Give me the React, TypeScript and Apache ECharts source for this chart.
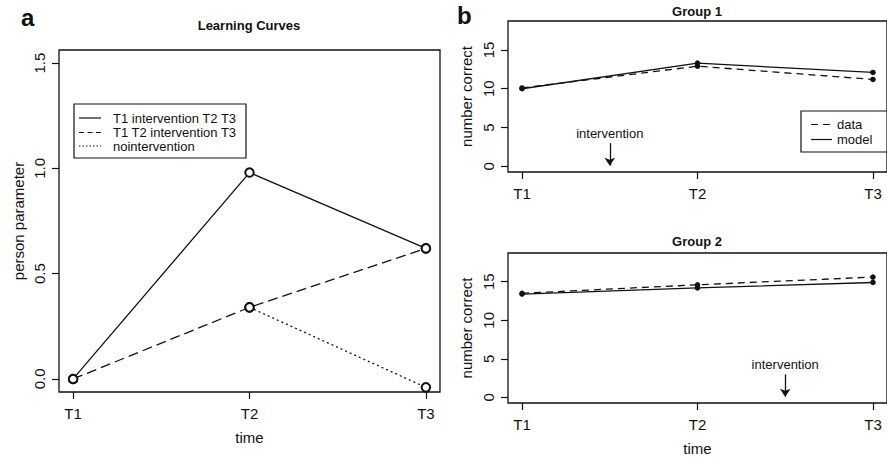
import React, { useEffect, useRef } from 'react';
import * as echarts from 'echarts';

const timeLabels = ['T1', 'T2', 'T3'];
const timeX = [1, 2, 3];

const curveNames = ['T1 intervention T2 T3', 'T1 T2 intervention T3', 'nointervention'];
const curveSolid = [0.0, 0.98, 0.62];
const curveDashed = [0.0, 0.34, 0.62];
const curveDotted = [null, 0.34, -0.04];
const personTicks = [0, 0.5, 1.0, 1.5];

const groupLegend = ['data', 'model'];
const correctTicks = [0, 5, 10, 15];
const group1Data = [10.1, 12.9, 11.2];
const group1Model = [10.0, 13.3, 12.1];
const group2Data = [13.5, 14.6, 15.6];
const group2Model = [13.4, 14.2, 14.9];
const interventionG1 = 1.5;
const interventionG2 = 2.5;
const arrowFrom = 3.0;
const arrowTo = 0.1;

const FONT = "'Liberation Sans', Arial, Helvetica, sans-serif";
const INK = '#111';

const pairs = (vals: (number | null)[]) =>
  vals.map((v, i) => (v === null ? null : [timeX[i], v])).filter((p) => p !== null) as number[][];

function xAxisCfg(gridIndex: number, name: string, nameGap: number) {
  return {
    type: 'value',
    gridIndex,
    min: 0.92,
    max: 3.08,
    name,
    nameLocation: 'middle',
    nameGap,
    nameTextStyle: { fontFamily: FONT, fontSize: 15, color: INK },
    axisLine: { show: false, onZero: false },
    splitLine: { show: false },
    axisTick: { show: true, customValues: timeX, length: 7, lineStyle: { color: INK, width: 1.2 } },
    axisLabel: {
      customValues: timeX,
      formatter: (v: number) => timeLabels[timeX.indexOf(v)] ?? '',
      margin: 14,
      fontFamily: FONT,
      fontSize: 15,
      color: INK,
    },
  };
}

function yAxisCfg(gridIndex: number, name: string, nameGap: number, min: number, max: number, ticks: number[], fmt: (v: number) => string, margin: number) {
  return {
    type: 'value',
    gridIndex,
    min,
    max,
    name,
    nameLocation: 'middle',
    nameGap,
    nameTextStyle: { fontFamily: FONT, fontSize: 15, color: INK },
    axisLine: { show: false, onZero: false },
    splitLine: { show: false },
    axisTick: { show: true, customValues: ticks, length: 7, lineStyle: { color: INK, width: 1.2 } },
    axisLabel: {
      customValues: ticks,
      formatter: fmt,
      rotate: 90,
      margin,
      fontFamily: FONT,
      fontSize: 15,
      color: INK,
    },
  };
}

export default function App() {
  const ref = useRef<HTMLDivElement>(null);
  useEffect(() => {
    if (!ref.current) return;
    const chart = echarts.init(ref.current, null, { renderer: 'svg' });
    const gridStyle = { show: true, borderColor: INK, borderWidth: 1.3, backgroundColor: 'transparent' };
    const openSym = {
      symbol: 'emptyCircle',
      symbolSize: 8.5,
      showSymbol: true,
      itemStyle: { color: INK, borderColor: INK, borderWidth: 1 },
    };
    const dotSym = { symbol: 'circle', symbolSize: 5.5, itemStyle: { color: INK } };

    const arrowMark = (xv: number) => ({
      silent: true,
      symbol: ['none', 'arrow'],
      symbolSize: [8, 8],
      lineStyle: { color: INK, type: 'solid', width: 1.3 },
      itemStyle: { color: INK },
      label: {
        show: true,
        position: 'start',
        distance: 3,
        formatter: 'intervention',
        fontFamily: FONT,
        fontSize: 13,
        color: INK,
      },
      data: [[{ coord: [xv, arrowFrom] }, { coord: [xv, arrowTo] }]],
    });

    const legendA = curveNames.map((n, i) => {
      const y = [118, 132.5, 146][i];
      const dash = [null, [5, 3.5], [1.5, 2]][i];
      return [
        { type: 'line', shape: { x1: 79, y1: y, x2: 101, y2: y }, style: { stroke: INK, lineWidth: 1.2, lineDash: dash } },
        { type: 'text', x: 113, y, style: { text: n, font: `13px ${FONT}`, fill: INK, verticalAlign: 'middle', align: 'left' } },
      ];
    }).flat();

    const legendB = groupLegend.map((n, i) => {
      const y = [124.5, 139.5][i];
      const dash = [[7, 5], null][i];
      return [
        { type: 'line', shape: { x1: 811, y1: y, x2: 832, y2: y }, style: { stroke: INK, lineWidth: 1.2, lineDash: dash } },
        { type: 'text', x: 837, y, style: { text: n, font: `13px ${FONT}`, fill: INK, verticalAlign: 'middle', align: 'left' } },
      ];
    }).flat();

    chart.setOption({
      animation: false,
      backgroundColor: '#fff',
      grid: [
        { left: 59, top: 50, width: 381, height: 342, ...gridStyle },
        { left: 508, top: 21, width: 382, height: 151, ...gridStyle },
        { left: 508, top: 253, width: 382, height: 150, ...gridStyle },
      ],
      xAxis: [xAxisCfg(0, 'time', 38), xAxisCfg(1, '', 30), xAxisCfg(2, 'time', 38)],
      yAxis: [
        yAxisCfg(0, 'person parameter', 33, -0.062, 1.562, personTicks, (v) => v.toFixed(1), 12),
        yAxisCfg(1, 'number correct', 34, -0.72, 18.72, correctTicks, (v) => String(v), 12),
        yAxisCfg(2, 'number correct', 34, -0.72, 18.72, correctTicks, (v) => String(v), 12),
      ],
      series: [
        {
          name: curveNames[0], type: 'line', xAxisIndex: 0, yAxisIndex: 0, data: pairs(curveSolid),
          lineStyle: { color: INK, width: 1.3, type: 'solid' }, ...openSym, z: 3,
        },
        {
          name: curveNames[1], type: 'line', xAxisIndex: 0, yAxisIndex: 0, data: pairs(curveDashed),
          lineStyle: { color: INK, width: 1.3, type: [10, 5] }, ...openSym, z: 3,
        },
        {
          name: curveNames[2], type: 'line', xAxisIndex: 0, yAxisIndex: 0, data: pairs(curveDotted),
          lineStyle: { color: INK, width: 1.3, type: [2, 3] }, ...openSym, z: 3,
        },
        {
          name: 'g1 data', type: 'line', xAxisIndex: 1, yAxisIndex: 1, data: pairs(group1Data),
          lineStyle: { color: INK, width: 1.3, type: [7, 5] }, ...dotSym,
        },
        {
          name: 'g1 model', type: 'line', xAxisIndex: 1, yAxisIndex: 1, data: pairs(group1Model),
          lineStyle: { color: INK, width: 1.3, type: 'solid' }, ...dotSym,
          markLine: arrowMark(interventionG1),
        },
        {
          name: 'g2 data', type: 'line', xAxisIndex: 2, yAxisIndex: 2, data: pairs(group2Data),
          lineStyle: { color: INK, width: 1.3, type: [7, 5] }, ...dotSym,
        },
        {
          name: 'g2 model', type: 'line', xAxisIndex: 2, yAxisIndex: 2, data: pairs(group2Model),
          lineStyle: { color: INK, width: 1.3, type: 'solid' }, ...dotSym,
          markLine: arrowMark(interventionG2),
        },
      ],
      graphic: [
        { type: 'text', x: 21, y: 17, style: { text: 'a', font: `bold 24px ${FONT}`, fill: INK, verticalAlign: 'middle', align: 'left' } },
        { type: 'text', x: 457, y: 15, style: { text: 'b', font: `bold 24px ${FONT}`, fill: INK, verticalAlign: 'middle', align: 'left' } },
        { type: 'text', x: 249, y: 25.5, style: { text: 'Learning Curves', font: `bold 13px ${FONT}`, fill: INK, verticalAlign: 'middle', align: 'center' } },
        { type: 'text', x: 697, y: 11.5, style: { text: 'Group 1', font: `bold 13px ${FONT}`, fill: INK, verticalAlign: 'middle', align: 'center' } },
        { type: 'text', x: 697, y: 241.5, style: { text: 'Group 2', font: `bold 13px ${FONT}`, fill: INK, verticalAlign: 'middle', align: 'center' } },
        { type: 'rect', shape: { x: 74, y: 104, width: 172, height: 54 }, style: { fill: '#fff', stroke: INK, lineWidth: 1.2 }, z: 10 },
        ...legendA.map((e) => ({ ...e, z: 11 })),
        { type: 'rect', shape: { x: 801, y: 111, width: 86, height: 41 }, style: { fill: '#fff', stroke: INK, lineWidth: 1.2 }, z: 10 },
        ...legendB.map((e) => ({ ...e, z: 11 })),
      ],
    });
    return () => chart.dispose();
  }, []);
  return <div ref={ref} style={{ position: 'absolute', left: 0, top: 0, width: 887, height: 457 }} />;
}
